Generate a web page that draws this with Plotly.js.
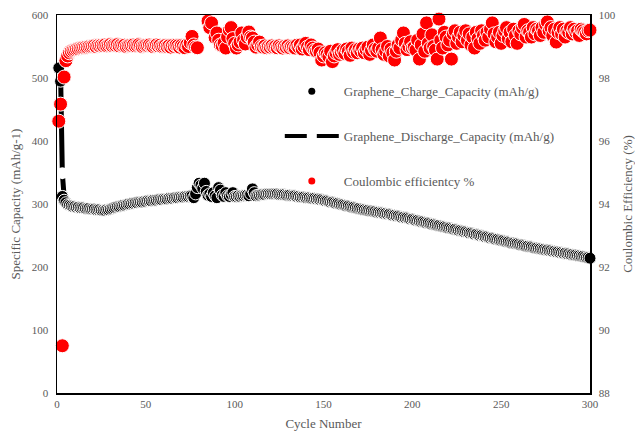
<!DOCTYPE html>
<html>
<head>
<meta charset="utf-8">
<script src="https://cdn.plot.ly/plotly-3.0.1.min.js"></script>
<style>html,body{margin:0;padding:0;background:#fff}#chart{width:635px;height:432px}</style>
</head>
<body>
<div id="chart"></div>
<script>
// Cycle numbers 1..300
const cycles = Array.from({length: 300}, (_, i) => i + 1);

const chargeCapacity = [
516,495,312,306,302,299,298,297,296,296,
295,295,294,294,294,293,293,293,292,292,
292,291,291,291,290,290,290,291,291,292,
293,294,295,296,296,297,298,298,299,300,
300,301,301,302,302,303,303,303,304,304,
305,305,305,306,306,306,307,307,307,308,
308,308,309,309,309,310,310,310,311,311,
311,312,312,312,313,313,310,316,326,333,
330,325,333,320,314,316,312,318,313,310,
326,322,314,312,318,313,312,315,318,312,
312,313,312,313,313,314,314,313,316,324,
318,313,314,314,315,315,315,316,316,316,
316,316,316,316,315,315,315,315,314,314,
314,313,313,313,312,312,311,311,311,310,
310,310,309,309,309,308,308,307,307,306,
305,305,304,303,303,302,301,301,300,299,
299,298,297,297,296,295,295,294,293,293,
292,291,291,290,290,289,289,288,288,287,
287,286,286,285,285,284,284,283,282,282,
281,281,280,279,279,278,278,277,276,276,
275,274,274,273,272,272,271,270,270,269,
268,268,267,266,266,265,264,264,263,262,
262,261,260,260,259,258,258,257,256,256,
255,254,254,253,252,252,251,250,250,249,
248,248,247,246,246,245,244,244,243,242,
242,241,240,240,239,238,238,237,237,236,
235,235,234,233,233,232,232,231,230,230,
229,229,228,228,227,227,226,226,225,225,
224,224,223,223,222,222,221,221,220,220,
219,219,218,218,217,217,216,215,215,214
];

const dischargeCapacity = [
533,509,349,312,306,303,302,300,299,299,
298,298,297,297,297,296,296,296,295,295,
295,294,294,294,293,293,293,294,294,295,
296,297,298,299,299,300,301,301,302,303,
303,304,304,305,305,306,306,306,307,307,
308,308,308,309,309,309,310,310,310,311,
311,311,312,312,312,313,313,313,314,314,
314,315,315,315,316,316,313,319,329,336,
333,328,336,323,317,319,315,321,316,313,
329,325,317,315,321,316,315,318,321,315,
315,316,315,316,316,317,317,316,319,327,
321,316,317,317,318,318,318,319,319,319,
319,319,319,319,318,318,318,318,317,317,
317,316,316,316,315,315,314,314,314,313,
313,313,312,312,312,311,311,310,310,309,
308,308,307,306,306,305,304,304,303,302,
302,301,300,300,299,298,298,297,296,296,
295,294,294,293,293,292,292,291,291,290,
290,289,289,288,288,287,287,286,285,285,
284,284,283,282,282,281,281,280,279,279,
278,277,277,276,275,275,274,273,273,272,
271,271,270,269,269,268,267,267,266,265,
265,264,263,263,262,261,261,260,259,259,
258,257,257,256,255,255,254,253,253,252,
251,251,250,249,249,248,247,247,246,245,
245,244,243,243,242,241,241,240,240,239,
238,238,237,236,236,235,235,234,233,233,
232,232,231,231,230,230,229,229,228,228,
227,227,226,226,225,225,224,224,223,223,
222,222,221,221,220,220,219,218,218,217
];

const coulombicEfficiency = [
96.63,97.17,89.5,98.03,98.55,98.7,98.8,98.85,98.88,98.9,
98.92,98.93,98.95,98.96,98.97,98.98,98.98,99.0,99.0,99.01,
99.02,99.0,99.03,99.02,99.04,99.03,99.05,99.02,99.04,99.06,
99.03,99.05,99.04,99.06,99.02,99.05,99.03,99.04,99.0,99.02,
99.04,99.03,99.05,99.02,99.04,99.06,99.03,99.0,99.02,99.04,
99.03,99.05,99.02,99.0,99.03,99.05,99.02,99.04,99.0,99.01,
99.03,99.0,99.02,98.98,99.03,99.0,99.04,99.02,98.98,99.03,
99.0,98.96,99.05,99.0,99.12,99.32,99.05,98.98,98.96,null,
null,null,null,null,99.81,99.6,99.75,100.03,99.28,99.43,
99.2,99.05,99.02,99.11,98.95,99.3,99.52,99.6,99.25,99.1,
98.95,99.05,99.14,99.43,99.2,99.08,99.3,99.46,99.3,99.27,
99.14,98.98,99.05,99.14,99.0,98.98,99.02,98.96,99.0,98.98,
99.02,98.98,99.0,98.96,99.02,98.98,98.95,99.0,98.98,99.02,
98.96,99.0,98.98,98.95,99.04,98.98,99.05,98.92,99.0,99.1,
98.98,98.9,99.05,98.95,98.88,98.85,98.92,98.8,98.57,98.7,
98.8,98.75,98.68,98.85,98.52,98.7,98.8,98.9,98.75,98.82,
98.88,98.78,98.92,98.85,98.72,98.95,98.82,98.9,98.8,98.92,
98.85,98.95,98.8,98.9,98.98,98.75,98.88,99.05,98.92,98.85,
98.95,99.27,98.9,98.75,98.85,99.0,98.7,98.92,98.8,98.57,
98.85,99.05,98.95,99.2,99.43,99.1,98.9,99.0,99.15,98.95,
98.98,98.89,99.2,98.6,99.05,99.4,98.85,99.75,99.1,98.95,
99.37,99.0,98.89,98.6,99.87,99.2,98.95,99.45,99.3,99.05,
99.2,98.6,99.4,99.5,99.1,99.3,99.45,99.15,99.35,99.5,
99.2,99.4,99.05,99.3,98.95,99.45,99.25,99.1,99.5,99.35,
99.2,99.45,99.3,99.55,99.75,99.4,99.15,99.3,99.45,99.1,
99.35,99.5,99.6,99.25,99.45,99.15,99.55,99.35,99.1,99.5,
99.4,99.6,99.7,99.3,99.5,99.45,99.3,99.6,99.4,99.55,
99.5,99.35,99.6,99.45,99.7,99.78,99.5,99.6,99.35,99.55,
99.14,99.45,99.6,99.4,99.55,99.3,99.5,99.45,99.6,99.4,
99.55,99.45,99.5,99.35,99.55,99.5,99.45,99.4,99.5,99.52
];

const xTicks = [0, 50, 100, 150, 200, 250, 300];
const yTicks = [0, 100, 200, 300, 400, 500, 600];
const y2Ticks = [88, 90, 92, 94, 96, 98, 100];

const names = {
  charge: "Graphene_Charge_Capacity (mAh/g)",
  discharge: "Graphene_Discharge_Capacity (mAh/g)",
  ce: "Coulombic efficientcy %"
};

const FONT = "Liberation Serif";
const GREY = "#595959";

const traces = [
  {
    x: cycles, y: dischargeCapacity, type: "scatter", mode: "lines+markers",
    line: {color: "#000", width: 5},
    marker: {color: "#fff", size: 12, line: {width: 0}},
    cliponaxis: false, showlegend: false, hoverinfo: "skip"
  },
  {
    x: cycles, y: chargeCapacity, type: "scatter", mode: "markers",
    marker: {color: "#000", size: 12, line: {color: "#fff", width: 1}},
    cliponaxis: false, showlegend: false, hoverinfo: "skip"
  },
  {
    x: cycles, y: coulombicEfficiency, type: "scatter", mode: "markers", yaxis: "y2",
    marker: {color: "#ff0000", size: 14, line: {color: "#fff", width: 1}},
    cliponaxis: false, showlegend: false, hoverinfo: "skip"
  },
  // legend entries
  {
    x: [null], y: [null], type: "scatter", mode: "markers", name: names.charge,
    legendgroup: "a", marker: {color: "#000", size: 7}
  },
  {
    x: [null], y: [null], type: "scatter", mode: "lines+markers", name: names.discharge,
    legendgroup: "b", line: {color: "#000", width: 4, dash: "22px,10px"},
    marker: {color: "#fff", size: 7}
  },
  {
    x: [null], y: [null], type: "scatter", mode: "markers", name: names.ce,
    legendgroup: "c", marker: {color: "#ff0000", size: 7}
  }
];

const layout = {
  width: 635, height: 432,
  margin: {l: 57, r: 45, t: 15, b: 39},
  paper_bgcolor: "#fff", plot_bgcolor: "#fff",
  font: {family: FONT, color: GREY, size: 11},
  showlegend: true,
  legend: {
    x: 0.418, y: 0.838, xanchor: "left", yanchor: "top",
    bgcolor: "rgba(0,0,0,0)", font: {family: FONT, size: 13, color: GREY},
    itemwidth: 54, tracegroupgap: 25, traceorder: "grouped"
  },
  xaxis: {
    range: [0, 300], tickvals: xTicks, ticktext: xTicks.map(String),
    showgrid: false, zeroline: false, showline: true, linecolor: "#000", linewidth: 1.5,
    mirror: true, ticks: "", tickfont: {family: FONT, size: 11, color: GREY},
    title: {text: "Cycle Number", font: {family: FONT, size: 13, color: GREY}, standoff: 10}
  },
  yaxis: {
    range: [0, 600], tickvals: yTicks, ticktext: yTicks.map(String),
    showgrid: false, zeroline: false, showline: true, linecolor: "#000", linewidth: 1.5,
    ticks: "", ticklabelstandoff: 5, tickfont: {family: FONT, size: 11, color: GREY},
    title: {text: "Specific Capacity (mAh/g-1)", font: {family: FONT, size: 13, color: GREY}, standoff: 8}
  },
  yaxis2: {
    overlaying: "y", side: "right",
    range: [88, 100], tickvals: y2Ticks, ticktext: y2Ticks.map(String),
    showgrid: false, zeroline: false, showline: true, linecolor: "#000", linewidth: 1.5,
    ticks: "", ticklabelstandoff: 5, tickfont: {family: FONT, size: 11, color: GREY},
    title: {text: "Coulombic Efficiency (%)", font: {family: FONT, size: 13, color: GREY}, standoff: 15}
  }
};

Plotly.newPlot("chart", traces, layout, {staticPlot: true, displayModeBar: false});
</script>
</body>
</html>
